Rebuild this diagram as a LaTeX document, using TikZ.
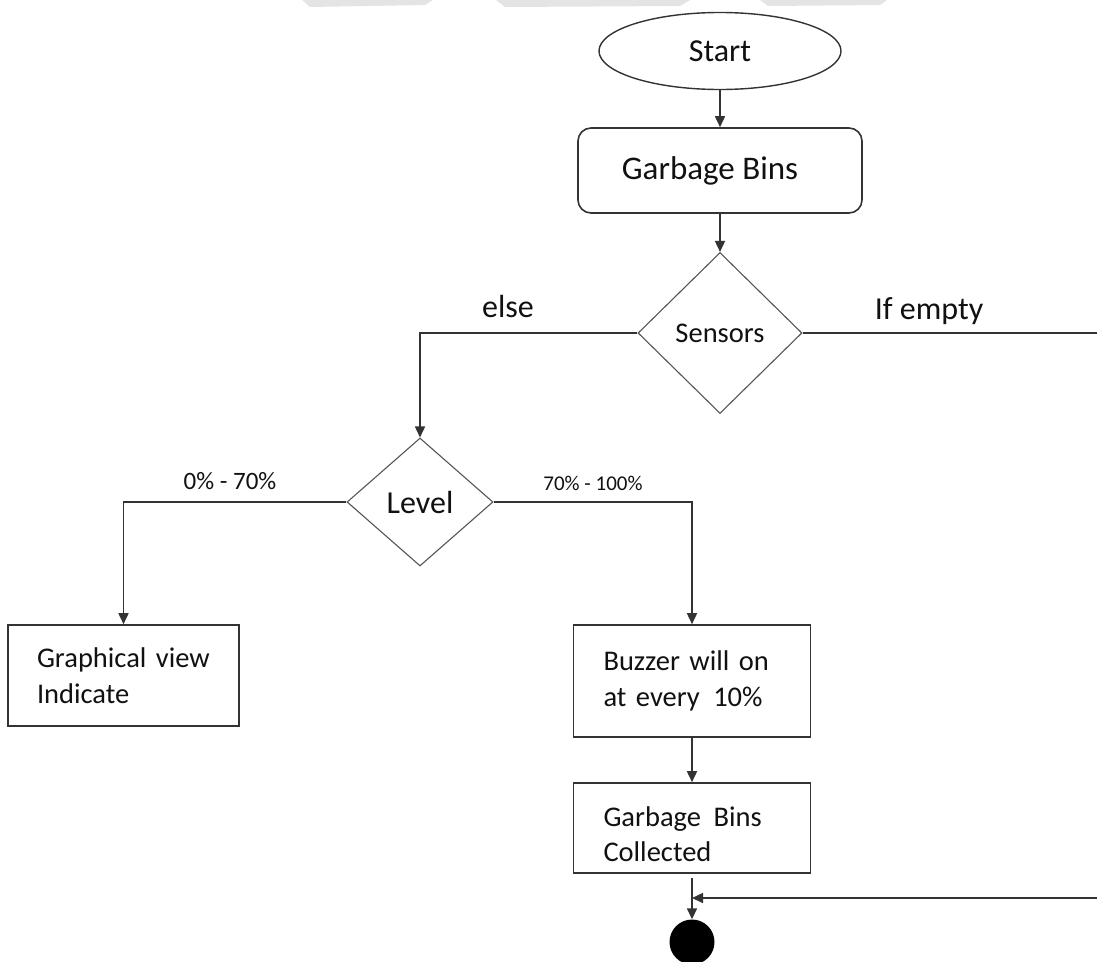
\documentclass[tikz,border=0pt]{standalone}
\usepackage{fontspec}
\setmainfont{Carlito}
\usetikzlibrary{shapes.geometric,arrows.meta}
\definecolor{ln}{HTML}{333333}
\definecolor{dl}{HTML}{555555}
\definecolor{tx}{HTML}{111111}
\definecolor{wm}{HTML}{E4E4E4}
\begin{document}
\begin{tikzpicture}[x=1pt,y=-1pt,
  arr/.style={-{Triangle[length=11pt,width=10pt]}, draw=ln, line width=1.6pt},
  box/.style={draw=ln, line width=1.6pt, fill=white, text=tx, align=left, inner xsep=0pt,
              font=\fontsize{28.5}{35.5}\selectfont},
  dia/.style={diamond, draw=dl, line width=1.1pt, text=tx, inner sep=0pt},
  lbl/.style={anchor=base, text=tx, inner sep=0pt}]
\clip (0,0) rectangle (1097,961);
\fill[white] (0,0) rectangle (1097,961);
% faint watermark remnants at the top edge
\fill[wm] (302,0) -- (433,0) -- (425,5) -- (310,7) -- cycle;
\fill[wm] (496,0) -- (690,0) -- (680,6) -- (505,7) -- cycle;
\fill[wm] (760,0) -- (887,0) -- (880,5) -- (768,6) -- cycle;

% nodes
\node[ellipse, draw=ln, line width=1.4pt, minimum width=242pt, minimum height=77pt,
      inner sep=0pt, text=tx, font=\fontsize{32}{38}\selectfont] (start) at (720,51) {Start};
\node[rectangle, rounded corners=13pt, draw=ln, line width=1.6pt, minimum width=284pt,
      minimum height=85pt, inner sep=0pt, text=tx, font=\fontsize{33}{40}\selectfont]
      (gb) at (720,170.5) {\hspace*{-20pt}Garbage Bins};
\node[dia, minimum width=164pt, minimum height=161pt, font=\fontsize{28.5}{34}\selectfont]
      (sensors) at (720,333) {Sensors};
\node[dia, minimum width=146pt, minimum height=128pt, font=\fontsize{32}{38}\selectfont]
      (level) at (420,502) {Level};
\node[box, minimum width=231pt, minimum height=101pt, text width=173pt]
      (graph) at (123.5,675.5) {Graphical view\\Indicate};
\node[box, minimum width=237pt, minimum height=112pt, text width=177pt]
      (buzz) at (692,681) {Buzzer will on\\at every\hspace{4pt} 10\%};
\node[box, minimum width=237pt, minimum height=90pt, text width=177pt]
      (coll) at (692,828) {\rule{0pt}{32pt}Garbage\hspace{3pt} Bins\\Collected};
\node[circle, fill=black, minimum size=45pt, inner sep=0pt] (end) at (692,942) {};

% labels
\node[lbl, font=\fontsize{32}{38}\selectfont] (lelse) at (508,317) {else};
\node[lbl, font=\fontsize{32}{38}\selectfont] (lempty) at (929,319) {If empty};
\node[lbl, font=\fontsize{25}{30}\selectfont] (llow) at (230,489) {0\% - 70\%};
\node[lbl, font=\fontsize{21}{25}\selectfont] (lhigh) at (593,490) {70\% - 100\%};

% connectors
\coordinate (rt) at (1112,333);
\coordinate (rb) at (1112,898);
\coordinate (j) at (692,898);
\draw[arr] (start.south) -- (gb.north);
\draw[arr] (gb.south) -- (sensors.north);
\draw[arr] (sensors.west) -| (level.north);
\draw[arr] (level.west) -| (graph.north);
\draw[arr] (level.east) -| (buzz.north);
\draw[arr] (buzz.south) -- (coll.north);
\draw[arr, shorten <=4pt] (coll.south) -- (end.north);
\draw[arr] (sensors.east) -- (rt) -- (rb) -- (j);
\end{tikzpicture}
\end{document}
